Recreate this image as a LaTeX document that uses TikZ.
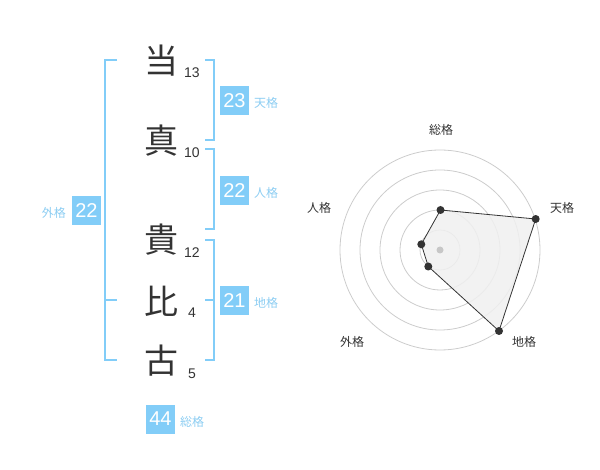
\documentclass[tikz,border=0pt]{standalone}
\usepackage{fontspec}
\setmainfont{Noto Sans CJK JP}
\newfontfamily\numfont{Liberation Sans}
\definecolor{bl}{HTML}{82CDF8}
\definecolor{bltext}{HTML}{8CCDF2}
\definecolor{ink}{HTML}{333333}
\begin{document}
\begin{tikzpicture}[x=1pt,y=-1pt,
  kanji/.style={text=ink,font=\fontsize{34}{34}\selectfont,inner sep=0pt},
  strk/.style={text=ink,font=\numfont\fontsize{14}{14}\selectfont,inner sep=0pt},
  valbox/.style={fill=bl,text=white,minimum width=29pt,minimum height=29pt,inner sep=0pt,font=\numfont\fontsize{20}{20}\selectfont},
  vlabel/.style={text=bltext,font=\fontsize{12}{12}\selectfont,inner sep=0pt},
  brk/.style={draw=bl,line width=2pt},
  ring/.style={draw=black!20,line width=0.8pt},
  rlabel/.style={text=ink,font=\fontsize{12}{12}\selectfont,inner sep=0pt},
  dot/.style={circle,fill=ink,inner sep=0pt,minimum size=8pt}]
\useasboundingbox (0,0) rectangle (600,470);
% characters
\node[kanji] (c1) at (161,61) {当};
\node[kanji] (c2) at (161,141) {真};
\node[kanji] (c3) at (161,240) {貴};
\node[kanji] (c4) at (161,301) {比};
\node[kanji] (c5) at (161,361) {古};
\node[strk] (n1) at (192,73) {13};
\node[strk] (n2) at (192,153) {10};
\node[strk] (n3) at (192,253) {12};
\node[strk] (n4) at (192,313) {4};
\node[strk] (n5) at (192,374) {5};
% brackets
\draw[brk] (205,60) -- (214,60) -- (214,140) -- (205,140);
\draw[brk] (205,149) -- (214,149) -- (214,229) -- (205,229);
\draw[brk] (205,240) -- (214,240) -- (214,360) -- (205,360);
\draw[brk] (205,300) -- (214,300);
\draw[brk] (117,60) -- (105,60) -- (105,360) -- (117,360);
\draw[brk] (105,300) -- (117,300);
% value boxes
\node[valbox] (b1) at (234.5,100.5) {23};
\node[vlabel,anchor=west] (l1) at (254,103) {天格};
\node[valbox] (b2) at (234.5,190.5) {22};
\node[vlabel,anchor=west] (l2) at (254,193) {人格};
\node[valbox] (b3) at (234.5,300.5) {21};
\node[vlabel,anchor=west] (l3) at (254,303) {地格};
\node[valbox] (b4) at (86.5,210.5) {22};
\node[vlabel,anchor=east] (l4) at (66,213) {外格};
\node[valbox] (b5) at (160.5,419) {44};
\node[vlabel,anchor=west] (l5) at (180,422) {総格};
% radar
\foreach \r in {20,40,60,80,100} \draw[ring] (440,250) circle[radius=\r];
\coordinate (pA) at (440.5,210);
\coordinate (pB) at (535.7,219);
\coordinate (pC) at (499,331);
\coordinate (pD) at (428.3,266.5);
\coordinate (pE) at (421.3,244.3);
\filldraw[fill=black!6,fill opacity=0.85,draw=ink,line width=0.8pt] (pA) -- (pB) -- (pC) -- (pD) -- (pE) -- cycle;
\fill[black!22] (440,250) circle[radius=3.5pt];
\foreach \p in {pA,pB,pC,pD,pE} \node[dot] at (\p) {};
\node[rlabel] (r1) at (441,130) {総格};
\node[rlabel] (r2) at (562,208) {天格};
\node[rlabel] (r3) at (524,342) {地格};
\node[rlabel] (r4) at (352,342) {外格};
\node[rlabel] (r5) at (319,208) {人格};
\end{tikzpicture}
\end{document}
